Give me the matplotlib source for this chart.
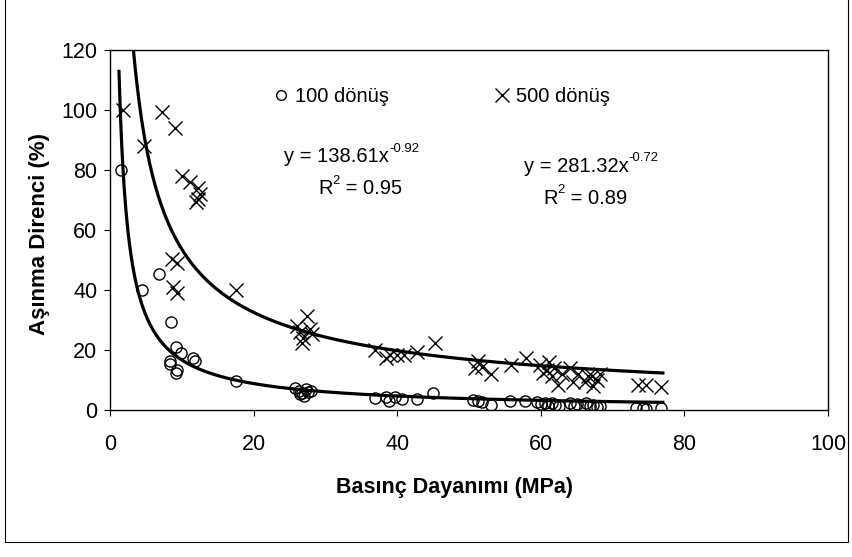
import numpy as np
import matplotlib.pyplot as plt
from matplotlib.patches import Rectangle
from matplotlib.lines import Line2D

plt.rcParams['font.family'] = ['Liberation Sans', 'DejaVu Sans']

# 100 donus (circles)
x100 = [1.5, 4.5, 6.8, 8.5, 9.2, 9.9, 8.4, 8.3, 9.3, 9.2, 11.6, 11.8, 17.6,
        25.8, 26.3, 26.8, 27.0, 27.3, 27.6, 28.0, 26.5,
        36.9, 38.5, 38.8, 39.7, 40.6, 42.7, 45.0,
        50.6, 51.3, 51.8, 53.1, 55.7, 57.8,
        59.5, 60.0, 60.6, 61.0, 61.5, 62.0, 62.5,
        64.1, 64.6, 65.0, 66.3, 66.8, 67.3, 67.8, 68.2,
        73.3, 74.3, 74.6, 76.8]
y100 = [80, 40, 45.5, 29.5, 21, 19, 16.5, 15.3, 13.5, 12.3, 17.2, 16.5, 9.8,
        7.2, 6.5, 5.8, 4.8, 7.0, 6.0, 6.5, 5.2,
        3.9, 4.4, 2.9, 4.2, 3.8, 3.8, 5.6,
        3.3, 3.0, 2.8, 1.8, 2.9, 3.0,
        2.8, 2.0, 2.5, 1.5, 2.2, 1.8, 1.3,
        2.3, 1.3, 2.0, 2.2, 1.3, 1.8, 1.0, 1.5,
        0.7, 0.7, 0.3, 0.6]

# 500 donus (crosses)
x500 = [1.8, 4.8, 7.3, 9.1,
        10.0, 11.2, 12.3, 12.6, 12.2, 12.0,
        8.7, 9.3, 8.8, 9.3, 17.6,
        26.0, 26.5, 26.9, 27.5, 27.8, 28.2, 26.8,
        36.9, 38.5, 39.0, 40.0, 40.9, 42.7, 45.3,
        50.8, 51.3, 51.8, 53.1, 55.9, 58.0,
        59.9, 60.3, 60.8, 61.2, 61.5, 61.9, 62.4, 63.0,
        64.1, 64.5, 65.2, 66.2, 66.6, 67.1, 67.3, 67.8, 68.2,
        73.6, 74.7, 76.8]
y500 = [100, 88, 99.5, 94,
        78, 76, 74, 72, 70.5, 69.5,
        50.5, 49, 41, 39, 40,
        28, 26, 24, 31.5, 27, 25.5, 22.5,
        20, 17.5, 18.5, 18.2, 18.5, 19.4, 22.5,
        14, 16.5, 14.5, 12, 15, 17.2,
        15, 12.5, 13.3, 16, 11.5, 14, 8.3, 12,
        14, 9.4, 12, 9.4, 11.5, 11.5, 8, 10, 12,
        8.5, 8.3, 7.8]

# power trendlines y = a * x^b
a100, b100 = 138.61, -0.92
a500, b500 = 281.32, -0.72
r2_100, r2_500 = 0.95, 0.89

W, H = 852, 557
fig = plt.figure(figsize=(W/100, H/100), dpi=100)
ax = fig.add_axes([110/W, 1-410/H, 718/W, 360/H])

xt = np.linspace(1.25, 77, 400)
ax.plot(xt, a100 * xt**b100, color='black', lw=2.3)
xt2 = np.linspace(1.8, 77, 400)
ax.plot(xt2, a500 * xt2**b500, color='black', lw=2.3)

ax.plot(x100, y100, 'o', mfc='none', mec='black', ms=8, mew=1.0)
ax.plot(x500, y500, 'x', color='black', ms=10.5, mew=1.0)

ax.set_xlim(0, 100)
ax.set_ylim(0, 120)
ax.set_xticks(range(0, 101, 20))
ax.set_yticks(range(0, 121, 20))
ax.tick_params(direction='out', length=4, width=0.8, labelsize=15.5)
ax.tick_params(axis='x', pad=13)
ax.tick_params(axis='y', pad=5)
for s in ax.spines.values():
    s.set_linewidth(1.0)

fig.text(455/W, 1-487/H, 'Basınç Dayanımı (MPa)', fontsize=15.5, fontweight='bold',
         ha='center', va='center')
fig.text(40/W, 1-234/H, 'Aşınma Direnci (%)', fontsize=16, fontweight='bold',
         ha='center', va='center', rotation=90)

h1 = Line2D([], [], ls='none', marker='o', mfc='none', mec='black', ms=7, mew=1.0)
h2 = Line2D([], [], ls='none', marker='x', color='black', ms=10, mew=1.0)
ax.legend([h1, h2], ['100 dönüş', '500 dönüş'], loc='center left',
          bbox_to_anchor=((273-110)/718, (410-97)/360), borderaxespad=0,
          borderpad=0, ncol=2, frameon=False, fontsize=14.5,
          handlelength=0.8, handletextpad=0.3, columnspacing=5.2)

def axpos(px, py):
    return (px-110)/718, (410-py)/360

def sup_text(px, py, base, sup, rest='', fs=14.5):
    t = ax.text(*axpos(px, py), base, transform=ax.transAxes,
                ha='left', va='center', fontsize=fs)
    s = ax.annotate(sup, xy=(1.0, 0.58), xycoords=t, ha='left', va='bottom',
                    fontsize=fs*0.65)
    if rest:
        ax.annotate(rest, xy=(1.0, 0.5), xycoords=(s, t), ha='left',
                    va='center', fontsize=fs)

sup_text(284, 157, f'y = {a100}x', f'{b100}')
sup_text(318, 189, 'R', '2', f' = {r2_100}')
sup_text(524, 166, f'y = {a500}x', f'{b500}')
sup_text(543, 198, 'R', '2', f' = {r2_500}')

# outer chart border
fig.patches.append(Rectangle((5/W, 1-542/H), 843/W, 542/H + 0.01,
                             transform=fig.transFigure, fill=False,
                             edgecolor='black', lw=0.8))

fig.savefig('out.png', dpi=100)
